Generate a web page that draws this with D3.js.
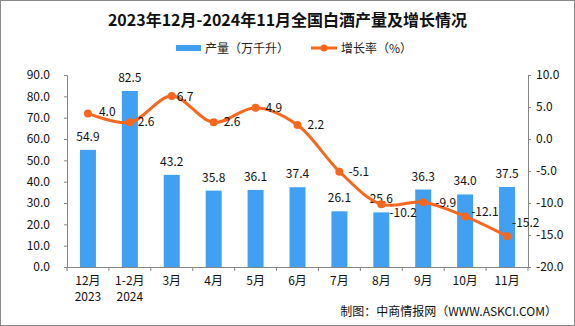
<!DOCTYPE html>
<html><head><meta charset="utf-8">
<script src="https://cdn.jsdelivr.net/npm/d3@7"></script>
<style>
html,body{margin:0;padding:0;background:#fff;}
svg{display:block;}
text{font-family:"Noto Sans CJK SC","Noto Sans",sans-serif;}
</style></head>
<body>
<svg id="chart" width="575" height="326"></svg>
<script>
const title = "2023年12月-2024年11月全国白酒产量及增长情况";
const categories = ["12月\n2023","1-2月\n2024","3月","4月","5月","6月","7月","8月","9月","10月","11月"];
const production = [54.9,82.5,43.2,35.8,36.1,37.4,26.1,25.6,36.3,34.0,37.5];
const growth = [4.0,2.6,6.7,2.6,4.9,2.2,-5.1,-10.2,-9.9,-12.1,-15.2];
const leftTicks = [0,10,20,30,40,50,60,70,80,90];
const rightTicks = [-20,-15,-10,-5,0,5,10];
const seriesNames = ["产量（万千升）","增长率（%）"];
const source = "制图：中商情报网（WWW.ASKCI.COM）";

// label placement (layout only): offset of each growth label from its point
const labelDx = [11,8,5,10,10,10,9,8,12,6,5];
const labelDy = [-1,0,1,0,0,0,0,9,1,-4,-13];

const W=575,H=326;
const svg=d3.select("#chart");
const m={l:67,r:528,t:75,b:267};
const blue="#41A0F2", orange="#F7671E", axisCol="#868686";

svg.append("rect").attr("x",0.5).attr("y",0.5).attr("width",W-1).attr("height",H-1)
  .attr("fill","#fff").attr("stroke","#8a8a8a").attr("stroke-width",1);

svg.append("text").attr("x",W/2).attr("y",26).attr("text-anchor","middle")
  .attr("font-size",16).attr("font-weight","bold").attr("fill","#111").text(title);

const x=d3.scaleBand().domain(categories).range([m.l,m.r]);
const yL=d3.scaleLinear().domain([0,90]).range([m.b,m.t]);
const yR=d3.scaleLinear().domain([-20,10]).range([m.b,m.t]);

// legend
const lg=svg.append("g").attr("font-size",12).attr("fill","#222");
lg.append("rect").attr("x",176).attr("y",45).attr("width",25).attr("height",6).attr("fill",blue);
lg.append("text").attr("x",205).attr("y",52.5).text(seriesNames[0]);
lg.append("line").attr("x1",311).attr("x2",337).attr("y1",48).attr("y2",48).attr("stroke",orange).attr("stroke-width",3);
lg.append("circle").attr("cx",324).attr("cy",48).attr("r",3.5).attr("fill",orange);
lg.append("text").attr("x",341).attr("y",52.5).text(seriesNames[1]);

// bars
const bw=16;
svg.append("g").selectAll("rect").data(production).join("rect")
  .attr("x",(d,i)=>x(categories[i])+x.bandwidth()/2-bw/2)
  .attr("y",d=>yL(d)).attr("width",bw).attr("height",d=>m.b-yL(d)).attr("fill",blue);

// axes
const axL=svg.append("g").attr("transform",`translate(${m.l},0)`)
  .call(d3.axisLeft(yL).tickValues(leftTicks).tickSize(3).tickPadding(14).tickFormat(d3.format(".1f")));
const axR=svg.append("g").attr("transform",`translate(${m.r},0)`)
  .call(d3.axisRight(yR).tickValues(rightTicks).tickSize(3).tickPadding(5).tickFormat(d=>d3.format(".1f")(d).replace("−","-")));
[axL,axR].forEach(a=>{
  a.select(".domain").attr("stroke",axisCol);
  a.selectAll(".tick line").attr("stroke",axisCol);
  a.selectAll("text").attr("font-size",12).attr("fill","#111").attr("font-family",'"Noto Sans CJK SC",sans-serif');
});
const axB=svg.append("g").attr("transform",`translate(0,${m.b})`)
  .call(d3.axisBottom(x).tickSize(0).tickFormat(""));
axB.select(".domain").attr("stroke",axisCol);
const bounds=categories.map(c=>x(c)).concat([m.r]);
svg.append("g").selectAll("line").data(bounds).join("line")
  .attr("x1",d=>d).attr("x2",d=>d).attr("y1",m.b).attr("y2",m.b+4).attr("stroke",axisCol);
const xl=svg.append("g").attr("font-size",12).attr("fill","#111").attr("text-anchor","middle");
categories.forEach(c=>{
  const lines=c.split("\n");
  const t=xl.append("text").attr("x",x(c)+x.bandwidth()/2);
  lines.forEach((s,j)=>t.append("tspan").attr("x",x(c)+x.bandwidth()/2).attr("y",285+j*16).text(s));
});

// bar labels
svg.append("g").attr("font-size",12).attr("fill","#111").attr("text-anchor","middle")
  .selectAll("text").data(production).join("text")
  .attr("x",(d,i)=>x(categories[i])+x.bandwidth()/2).attr("y",d=>yL(d)-9).text(d=>d.toFixed(1));

// line
const cx=i=>x(categories[i])+x.bandwidth()/2;
const line=d3.line().x((d,i)=>cx(i)).y(d=>yR(d)).curve(d3.curveCatmullRom.alpha(0.5));
svg.append("path").datum(growth).attr("d",line).attr("fill","none").attr("stroke",orange).attr("stroke-width",3);
svg.append("g").selectAll("circle").data(growth).join("circle")
  .attr("cx",(d,i)=>cx(i)).attr("cy",d=>yR(d)).attr("r",4).attr("fill",orange);
svg.append("g").attr("font-size",12).attr("fill","#111")
  .selectAll("text").data(growth).join("text")
  .attr("x",(d,i)=>cx(i)+labelDx[i])
  .attr("y",(d,i)=>yR(d)+4+labelDy[i])
  .text(d=>d.toFixed(1));

// source
svg.append("text").attr("x",557).attr("y",316).attr("text-anchor","end").attr("font-size",12).attr("fill","#111").text(source);
</script>
</body></html>
